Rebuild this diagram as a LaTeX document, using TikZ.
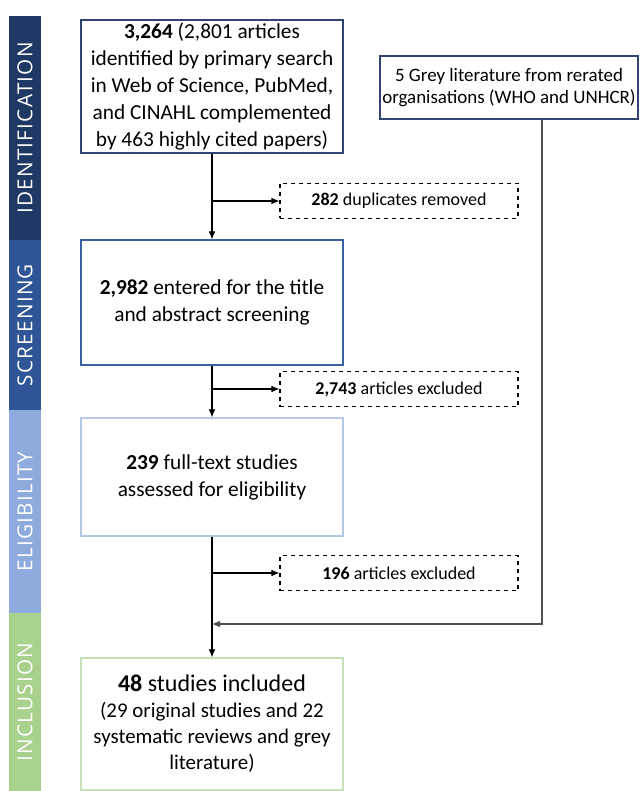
\documentclass[tikz,border=0pt]{standalone}
\usepackage{fontspec}
\setmainfont{Carlito}
\newfontfamily\barfont[LetterSpace=6]{Open Sans}
\usetikzlibrary{arrows.meta}

\definecolor{identbar}{HTML}{203864}
\definecolor{screenbar}{HTML}{2F5597}
\definecolor{eligbar}{HTML}{8FAADC}
\definecolor{inclbar}{HTML}{A9D18E}
\definecolor{identline}{HTML}{2F4272}
\definecolor{screenline}{HTML}{3A5FA3}
\definecolor{eligline}{HTML}{B4C7E7}
\definecolor{inclline}{HTML}{C5E0B4}
\definecolor{returnline}{HTML}{505050}

\begin{document}
\begin{tikzpicture}[x=0.75pt,y=-0.75pt,
    stagebar/.style={rotate=90, minimum height=24pt, inner sep=0pt,
      text=white, font=\barfont\fontsize{15.5}{15.5}\selectfont},
    flowbox/.style={draw, line width=0.9pt, fill=white, align=center,
      inner sep=0pt, minimum width=196.5pt, font=\fontsize{16}{20.25}\selectfont},
    exclbox/.style={draw, dashed, line width=0.8pt, minimum width=178.5pt,
      minimum height=26.25pt, inner sep=0pt, font=\fontsize{13.5}{16}\selectfont},
    flowarrow/.style={-{Latex[length=6pt,width=5pt]}, line width=0.8pt}]
  \useasboundingbox (0,0) rectangle (642,791);

  % Stage bars
  \node[stagebar, fill=identbar, minimum width=168pt] (identbar) at (25,128) {IDENTIFICATION};
  \node[stagebar, fill=screenbar, minimum width=127.5pt] (screenbar) at (25,325) {SCREENING};
  \node[stagebar, fill=eligbar, minimum width=152.25pt] (eligbar) at (25,511.5) {ELIGIBILITY};
  \node[stagebar, fill=inclbar, minimum width=133.5pt] (inclbar) at (25,702) {INCLUSION};

  % Identification
  \node[flowbox, draw=identline, minimum height=99.75pt] (ident) at (212,86.5)
    {\textbf{3,264} (2,801 articles\\identified by primary search\\in Web of Science, PubMed,\\and CINAHL complemented\\by 463 highly cited papers)};
  \node[flowbox, draw=identline, minimum width=193.5pt, minimum height=47.25pt,
    font=\fontsize{14.2}{16.5}\selectfont] (grey) at (509,87.5)
    {5 Grey literature from rerated\\organisations (WHO and UNHCR)};
  \node[exclbox] (dup) at (399,201) {\textbf{282} duplicates removed};

  % Screening
  \node[flowbox, draw=screenline, minimum height=93.75pt] (screen) at (212,302.5)
    {\textbf{2,982} entered for the title\\and abstract screening};
  \node[exclbox] (exclA) at (399,389) {\textbf{2,743} articles excluded};

  % Eligibility
  \node[flowbox, draw=eligline, minimum height=88.5pt] (elig) at (212,477)
    {\textbf{239} full-text studies\\assessed for eligibility};
  \node[exclbox] (exclB) at (399,573) {\textbf{196} articles excluded};

  % Inclusion
  \node[flowbox, draw=inclline, minimum height=99pt, font=\fontsize{15.7}{19.5}\selectfont] (incl) at (212,724)
    {{\fontsize{18}{22}\selectfont\textbf{48} studies included}\\(29 original studies and 22\\systematic reviews and grey\\literature)};

  % Connectors
  \draw[flowarrow] (ident) -- (screen);
  \draw[flowarrow] (ident.south |- dup.west) -- (dup.west);
  \draw[flowarrow] (screen) -- (elig);
  \draw[flowarrow] (screen.south |- exclA.west) -- (exclA.west);
  \draw[flowarrow] (elig) -- (incl);
  \draw[flowarrow] (elig.south |- exclB.west) -- (exclB.west);
  \coordinate (turn) at (542,624);
  \draw[flowarrow, draw=returnline] (grey.south -| turn) -- (turn) -- (turn -| incl.north);
\end{tikzpicture}
\end{document}
